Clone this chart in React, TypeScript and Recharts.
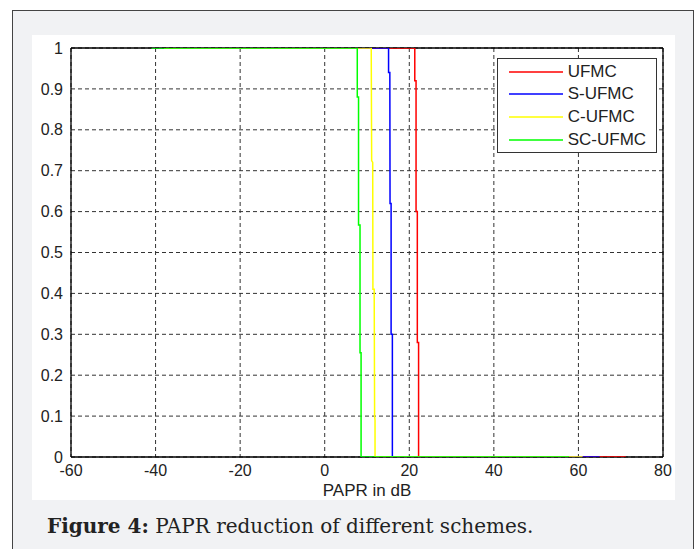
import React from 'react';
import { LineChart, Line, XAxis, YAxis, CartesianGrid, Legend } from 'recharts';

// ---- data ----
const xTicks = [-60, -40, -20, 0, 20, 40, 60, 80];
const yTicks = [0, 0.1, 0.2, 0.3, 0.4, 0.5, 0.6, 0.7, 0.8, 0.9, 1];
const xBounds = [-60, 80];
const yBounds = [0, 1];

const ufmc = [
  { x: -30, y: 1 }, { x: 21.3, y: 1 }, { x: 21.3, y: 0.92 }, { x: 21.6, y: 0.92 },
  { x: 21.6, y: 0.6 }, { x: 21.9, y: 0.6 }, { x: 21.9, y: 0.28 }, { x: 22.2, y: 0.28 },
  { x: 22.2, y: 0 }, { x: 71.2, y: 0 },
];
const sUfmc = [
  { x: -35, y: 1 }, { x: 15.1, y: 1 }, { x: 15.1, y: 0.94 }, { x: 15.4, y: 0.94 },
  { x: 15.45, y: 0.62 }, { x: 15.7, y: 0.62 }, { x: 15.7, y: 0.3 }, { x: 16.0, y: 0.3 },
  { x: 16.0, y: 0 }, { x: 65, y: 0 },
];
const cUfmc = [
  { x: -38, y: 1 }, { x: 11.0, y: 1 }, { x: 11.1, y: 0.725 }, { x: 11.35, y: 0.72 },
  { x: 11.4, y: 0.41 }, { x: 11.7, y: 0.41 }, { x: 11.8, y: 0.1 }, { x: 11.9, y: 0.09 },
  { x: 11.9, y: 0 }, { x: 61, y: 0 },
];
const scUfmc = [
  { x: -41, y: 1 }, { x: 7.7, y: 1 }, { x: 7.7, y: 0.88 }, { x: 8.0, y: 0.88 },
  { x: 8.0, y: 0.567 }, { x: 8.35, y: 0.567 }, { x: 8.35, y: 0.255 }, { x: 8.6, y: 0.255 },
  { x: 8.6, y: 0 }, { x: 57.8, y: 0 },
];

const seriesNames = ['UFMC', 'S-UFMC', 'C-UFMC', 'SC-UFMC'];
const seriesColors = ['#ff0000', '#0000ff', '#ffff00', '#00ff00'];
const seriesData = [ufmc, sUfmc, cUfmc, scUfmc];

const axisFont = '"Liberation Sans", Arial, sans-serif';

const LegendBox = () => (
  <div
    style={{
      width: 160,
      height: 95,
      boxSizing: 'border-box',
      border: '1.5px solid #333',
      background: '#fff',
      position: 'relative',
      fontFamily: axisFont,
      fontSize: 17,
      color: '#222',
    }}
  >
    {seriesNames.map((name, i) => (
      <div
        key={name}
        style={{
          position: 'absolute',
          left: 0,
          top: 13 + i * 22.8 - 11,
          height: 22,
          width: '100%',
        }}
      >
        <svg width={60} height={22} style={{ position: 'absolute', left: 9, top: 0 }}>
          <line x1={2} x2={56} y1={11} y2={11} stroke={seriesColors[i]} strokeWidth={1.5} />
        </svg>
        <span style={{ position: 'absolute', left: 70, top: 0, lineHeight: '22px', whiteSpace: 'nowrap' }}>
          {name}
        </span>
      </div>
    ))}
  </div>
);

export default function App() {
  return (
    <div
      style={{
        position: 'absolute',
        left: 0,
        top: 0,
        width: 699,
        height: 549,
        overflow: 'hidden',
        background: '#fff',
      }}
    >
      <div
        style={{
          position: 'absolute',
          left: 12,
          top: 10,
          width: 680,
          height: 560,
          border: '1.5px solid #444',
          background: '#f1f2f4',
        }}
      />
      <div style={{ position: 'absolute', left: 32, top: 35, width: 643, height: 465, background: '#fff' }}>
        <LineChart width={643} height={465} margin={{ top: 13, right: 12, bottom: 0, left: 0 }}>
          <CartesianGrid
            stroke="#333"
            strokeDasharray="4 3"
            strokeWidth={1}
            horizontalValues={yTicks}
            verticalValues={xTicks}
          />
          <CartesianGrid
            stroke="#000"
            strokeWidth={1.3}
            horizontalValues={yBounds}
            verticalValues={xBounds}
          />
          <XAxis
            dataKey="x"
            type="number"
            domain={[-60, 80]}
            ticks={xTicks}
            allowDataOverflow
            height={43}
            tickLine={false}
            tickSize={0}
            tickMargin={8}
            axisLine={false}
            tick={{ fontSize: 16, fill: '#222', fontFamily: axisFont }}
            interval={0}
            label={{
              value: 'PAPR in dB',
              position: 'insideBottom',
              offset: 4,
              style: { fontSize: 17, fill: '#222', fontFamily: axisFont },
            }}
          />
          <XAxis
            xAxisId="top"
            orientation="top"
            type="number"
            domain={[-60, 80]}
            ticks={xTicks.slice(1, -1)}
            allowDataOverflow
            mirror
            tick={false}
            tickSize={5}
            tickLine={{ stroke: '#000' }}
            axisLine={false}
            interval={0}
          />
          <XAxis
            xAxisId="bottomTicks"
            orientation="bottom"
            type="number"
            domain={[-60, 80]}
            ticks={xTicks.slice(1, -1)}
            allowDataOverflow
            mirror
            tick={false}
            tickSize={5}
            tickLine={{ stroke: '#000' }}
            axisLine={false}
            interval={0}
          />
          <YAxis
            type="number"
            domain={[0, 1]}
            ticks={yTicks}
            allowDataOverflow
            width={39}
            tickLine={false}
            tickSize={0}
            tickMargin={8}
            axisLine={false}
            tick={{ fontSize: 16, fill: '#222', fontFamily: axisFont }}
            tickFormatter={(v: number) => String(v)}
            interval={0}
          />
          <YAxis
            yAxisId="leftTicks"
            orientation="left"
            type="number"
            domain={[0, 1]}
            ticks={yTicks.slice(1, -1)}
            allowDataOverflow
            mirror
            tick={false}
            tickSize={5}
            tickLine={{ stroke: '#000' }}
            axisLine={false}
            interval={0}
          />
          <YAxis
            yAxisId="right"
            orientation="right"
            type="number"
            domain={[0, 1]}
            ticks={yTicks.slice(1, -1)}
            allowDataOverflow
            mirror
            tick={false}
            tickSize={5}
            tickLine={{ stroke: '#000' }}
            axisLine={false}
            interval={0}
          />
          {seriesData.map((d, i) => (
            <Line
              key={seriesNames[i]}
              data={d}
              dataKey="y"
              name={seriesNames[i]}
              type="linear"
              stroke={seriesColors[i]}
              strokeWidth={1.5}
              dot={false}
              activeDot={false}
              isAnimationActive={false}
            />
          ))}
          <Legend
            layout="vertical"
            align="center"
            verticalAlign="middle"
            content={() => <LegendBox />}
            wrapperStyle={{ position: 'absolute', left: 464.7, top: 22.7, width: 160, height: 95 }}
          />
        </LineChart>
      </div>
      <div
        style={{
          position: 'absolute',
          left: 47,
          top: 515.8,
          fontFamily: '"DejaVu Serif", serif',
          fontSize: 20,
          lineHeight: '20px',
          color: '#222',
          whiteSpace: 'nowrap',
        }}
      >
        <b>Figure 4:</b> PAPR reduction of different schemes.
      </div>
    </div>
  );
}
